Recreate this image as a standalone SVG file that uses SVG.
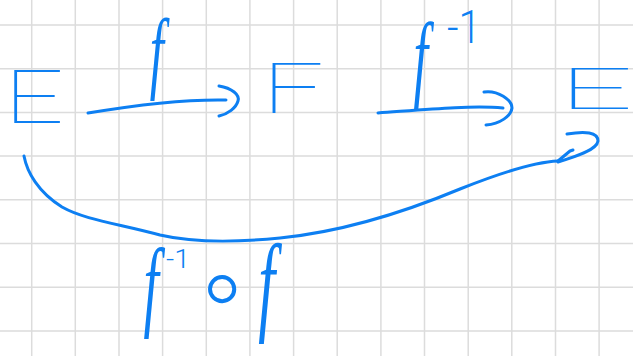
<svg xmlns="http://www.w3.org/2000/svg" width="633" height="356" viewBox="0 0 633 356">
<style>
.grid{stroke:#dcdcdc;stroke-width:1.5;fill:none}
.ink{stroke:#0d7ff2;stroke-width:3;fill:none;stroke-linecap:round;stroke-linejoin:round}
.cap{font-family:Roboto,"Liberation Sans",Arial,sans-serif;font-weight:100;fill:#0d7ff2}
.fn{font-family:"Liberation Serif","Times New Roman",serif;font-style:italic;fill:#0d7ff2}
.sup{font-family:Roboto,"Liberation Sans",Arial,sans-serif;font-weight:300;fill:#0d7ff2}
.op{font-family:"DejaVu Sans",sans-serif;font-weight:200;fill:#0d7ff2}
</style>
<rect width="633" height="356" fill="#ffffff"/>
<g id="grid">
<path class="grid" d="M31.7,0V356M75.3,0V356M119,0V356M162.6,0V356M206.3,0V356M249.9,0V356M293.6,0V356M337.2,0V356M380.9,0V356M424.5,0V356M468.2,0V356M511.8,0V356M555.5,0V356M599.1,0V356M0,25H633M0,68.7H633M0,112.4H633M0,156.1H633M0,199.8H633M0,243.5H633M0,287.2H633M0,330.9H633"/>
</g>
<g id="node-E-left"><text class="cap" x="4" y="123" font-size="74" textLength="60" lengthAdjust="spacingAndGlyphs">E</text></g>
<g id="node-F"><text class="cap" x="262" y="113" font-size="71" textLength="62" lengthAdjust="spacingAndGlyphs">F</text></g>
<g id="node-E-right"><text class="cap" x="559" y="109" font-size="57" textLength="74" lengthAdjust="spacingAndGlyphs">E</text></g>
<g id="connectors">
<g id="arrow-f">
<path class="ink" d="M88,113 C130,106 180,99 226,100"/>
<path class="ink" d="M219,86 C232,88 240,95 238,101 C236,108 228,114 219,116"/>
<text class="fn" transform="scale(0.55,1)" x="285" y="82" font-size="92" text-anchor="middle">f</text>
</g>
<g id="arrow-finv">
<path class="ink" d="M378,113 C420,110 470,105 503,108"/>
<path class="ink" d="M484,92 C498,90 512,100 512,108 C511,116 500,124 486,125"/>
<text class="fn" transform="scale(0.55,1)" x="765" y="89" font-size="95" text-anchor="middle">f</text>
<text class="sup" x="447" y="43" font-size="46" textLength="34" lengthAdjust="spacingAndGlyphs">-1</text>
</g>
<g id="arrow-composite">
<path class="ink" d="M24,156 C27,172 38,192 62,207 C85,220 120,224 160,235 C190,242 230,243 280,238 C340,232 400,214 460,189 C500,173 535,162 558,161"/>
<path class="ink" d="M558,161 L570,151 L573,150"/>
<path class="ink" d="M567,134 C585,131 598,132 598,141 C597,150 575,157 558,162"/>
<text class="fn" transform="scale(0.55,1)" x="275" y="318" font-size="100" text-anchor="middle">f</text>
<text class="sup" x="166" y="268" font-size="25" textLength="24" lengthAdjust="spacingAndGlyphs">-1</text>
<text class="op" x="222" y="322" font-size="105" text-anchor="middle">∘</text>
<text class="fn" transform="scale(0.55,1)" x="485" y="321" font-size="110" text-anchor="middle">f</text>
</g>
</g>
</svg>
